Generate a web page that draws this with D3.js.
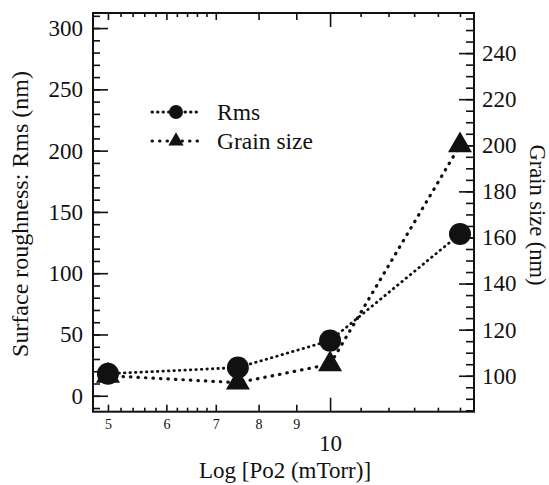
<!DOCTYPE html>
<html>
<head>
<meta charset="utf-8">
<script src="https://cdn.jsdelivr.net/npm/d3@7"></script>
<style>
  body { margin: 0; background: #fff; }
</style>
</head>
<body>
<script>
// data
let pressure = [5, 7.5, 10, 15];          // Po2 (mTorr)
let rmsValues = [18, 23, 45, 132];        // nm, left axis
let grainValues = [100, 97, 105, 200];    // nm, right axis

let xLabelTicks = [5, 6, 7, 8, 9];
let xDecadeTicks = [10];
let xMinorTicks = [5.2, 5.4, 5.6, 5.8, 6.2, 6.4, 6.6, 6.8, 11, 12, 13, 14, 15];
let leftTicks = [0, 50, 100, 150, 200, 250, 300];
let rightTicks = [100, 120, 140, 160, 180, 200, 220, 240];

let serif = "Liberation Serif";

// frame of the plot
let margin = {top: 13, right: 75, bottom: 73.3, left: 93};
let W = 549, H = 485;
let width = W - margin.left - margin.right;
let height = H - margin.top - margin.bottom;

let svg = d3.select("body").append("svg")
    .attr("width", W)
    .attr("height", H);

let g = svg.append("g")
    .attr("transform", "translate(" + margin.left + "," + margin.top + ")");

// scales
let xScale = d3.scaleLog().domain([4.772, 15.67]).range([0, width]);
let yLeft = d3.scaleLinear().domain([-13, 312.3]).range([height, 0]);
let yRight = d3.scaleLinear().domain([84.4, 257.4]).range([height, 0]);

function clean(sel) {
  sel.attr("font-family", null);
  sel.select(".domain").remove();
  sel.selectAll("line").attr("stroke", "#111").attr("stroke-width", 1.6);
  sel.selectAll("text").attr("fill", "#111").style("font-family", serif);
}

// bottom axis
g.append("g").attr("transform", "translate(0," + height + ")")
  .call(d3.axisBottom(xScale).tickValues(xLabelTicks).tickFormat(d3.format("d"))
    .tickSize(-7).tickPadding(7))
  .call(clean)
  .selectAll("text").style("font-size", "14px");
g.append("g").attr("transform", "translate(0," + height + ")")
  .call(d3.axisBottom(xScale).tickValues(xDecadeTicks).tickFormat(d3.format("d"))
    .tickSize(-14).tickPadding(22.5))
  .call(clean)
  .selectAll("text").style("font-size", "23px");
g.append("g").attr("transform", "translate(0," + height + ")")
  .call(d3.axisBottom(xScale).tickValues(xMinorTicks).tickFormat("").tickSize(-4))
  .call(clean);

// top axis (mirror)
g.append("g")
  .call(d3.axisTop(xScale).tickValues(xLabelTicks).tickFormat("").tickSize(-7))
  .call(clean);
g.append("g")
  .call(d3.axisTop(xScale).tickValues(xDecadeTicks).tickFormat("").tickSize(-14))
  .call(clean);
g.append("g")
  .call(d3.axisTop(xScale).tickValues(xMinorTicks).tickFormat("").tickSize(-4))
  .call(clean);

// left axis
g.append("g")
  .call(d3.axisLeft(yLeft).tickValues(leftTicks).tickSize(-15).tickPadding(10))
  .call(clean)
  .selectAll("text").style("font-size", "23px");
g.append("g")
  .call(d3.axisLeft(yLeft).tickValues(d3.range(-10, 311, 10)).tickFormat("").tickSize(-7))
  .call(clean);

// right axis
g.append("g").attr("transform", "translate(" + width + ",0)")
  .call(d3.axisRight(yRight).tickValues(rightTicks).tickSize(-15).tickPadding(8))
  .call(clean)
  .selectAll("text").style("font-size", "23px");
g.append("g").attr("transform", "translate(" + width + ",0)")
  .call(d3.axisRight(yRight).tickValues(d3.range(85, 256, 5)).tickFormat("").tickSize(-8))
  .call(clean);

// frame
g.append("rect")
  .attr("width", width).attr("height", height)
  .attr("fill", "none").attr("stroke", "#111").attr("stroke-width", 2);

// lines
let rmsLine = d3.line()
  .x(function(d, i) { return xScale(pressure[i]); })
  .y(function(d) { return yLeft(d); });
let grainLine = d3.line()
  .x(function(d, i) { return xScale(pressure[i]); })
  .y(function(d) { return yRight(d); });

g.append("path").datum(rmsValues)
  .attr("d", rmsLine)
  .attr("fill", "none").attr("stroke", "#111")
  .attr("stroke-width", 2.8).attr("stroke-linecap", "round")
  .attr("stroke-dasharray", "0.5,5");
g.append("path").datum(grainValues)
  .attr("d", grainLine)
  .attr("fill", "none").attr("stroke", "#111")
  .attr("stroke-width", 3.2).attr("stroke-linecap", "round")
  .attr("stroke-dasharray", "0.5,7");

// markers
let triangle = d3.symbol().type(d3.symbolTriangle).size(250);
g.selectAll(".tri").data(grainValues).enter().append("path")
  .attr("class", "tri")
  .attr("d", triangle)
  .attr("transform", function(d, i) { return "translate(" + xScale(pressure[i]) + "," + yRight(d) + ")"; })
  .attr("fill", "#111");
g.selectAll(".dot").data(rmsValues).enter().append("circle")
  .attr("class", "dot")
  .attr("r", 11)
  .attr("cx", function(d, i) { return xScale(pressure[i]); })
  .attr("cy", function(d) { return yLeft(d); })
  .attr("fill", "#111");

// legend
let legend = svg.append("g");
let legendItems = [
  {label: "Rms", y: 112, dash: "0.5,5", sym: "circle"},
  {label: "Grain size", y: 141, dash: "0.5,7", sym: "triangle"}
];
legendItems.forEach(function(d) {
  legend.append("line")
    .attr("x1", 152).attr("x2", 200).attr("y1", d.y).attr("y2", d.y)
    .attr("stroke", "#111").attr("stroke-width", 3).attr("stroke-linecap", "round")
    .attr("stroke-dasharray", d.dash);
  if (d.sym == "circle") {
    legend.append("circle").attr("cx", 176).attr("cy", d.y).attr("r", 7).attr("fill", "#111");
  } else {
    legend.append("path").attr("d", d3.symbol().type(d3.symbolTriangle).size(100))
      .attr("transform", "translate(176," + d.y + ")").attr("fill", "#111");
  }
  legend.append("text")
    .attr("x", 217).attr("y", d.y).attr("dy", "0.35em")
    .attr("fill", "#111")
    .style("font-family", serif)
    .style("font-size", "23.5px")
    .text(d.label);
});

// axis titles
svg.append("text")
  .attr("x", 285).attr("y", 478)
  .attr("text-anchor", "middle")
  .attr("fill", "#111")
  .style("font-family", serif)
  .style("font-size", "23px")
  .text("Log [Po2 (mTorr)]");

svg.append("text")
  .attr("transform", "translate(28,214) rotate(-90)")
  .attr("text-anchor", "middle")
  .attr("fill", "#111")
  .style("font-family", serif)
  .style("font-size", "24px")
  .text("Surface roughness: Rms (nm)");

svg.append("text")
  .attr("transform", "translate(530,215) rotate(90)")
  .attr("text-anchor", "middle")
  .attr("fill", "#111")
  .style("font-family", serif)
  .style("font-size", "22.5px")
  .text("Grain size (nm)");
</script>
</body>
</html>
